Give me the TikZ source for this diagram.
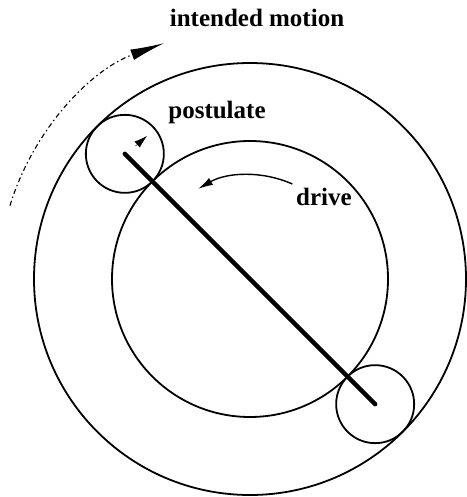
\documentclass[tikz,border=0pt]{standalone}
\usepackage{fontspec}
\setmainfont{Liberation Serif}
\usetikzlibrary{arrows.meta,calc}
\begin{document}
\begin{tikzpicture}[x=1pt,y=-1pt,
  ring/.style={line width=1.8pt},
  rod/.style={line width=4.5pt,line cap=round},
  lbl/.style={font=\fontsize{25}{30}\selectfont\bfseries,anchor=base,inner sep=0pt},
  motionarc/.style={line width=1.1pt,dash pattern=on 5pt off 3pt on 1.5pt off 3pt},
  drivearc/.style={line width=1.4pt}]
\useasboundingbox (0,0) rectangle (466,497);
\coordinate (c) at (250,279);
\coordinate (s1) at ($(c)+(225:177)$);
\coordinate (s2) at ($(c)+(45:177)$);
\node[draw,ring,circle,minimum size=432pt,inner sep=0pt] (outer) at (c) {};
\node[draw,ring,circle,minimum size=276pt,inner sep=0pt] (inner) at (c) {};
\node[draw,ring,circle,minimum size=78pt,inner sep=0pt] (p1) at (s1) {};
\node[draw,ring,circle,minimum size=78pt,inner sep=0pt] (p2) at (s2) {};
\draw[rod] (p1.center) -- (p2.center);
% intended motion arc
\coordinate (m0) at ($(c)+(197:251)$);
\draw[motionarc,-{Latex[length=34pt,width=11pt]}] (m0) arc[start angle=197,end angle=250,radius=251];
% drive arc
\coordinate (d0) at ($(c)+(294:104)$);
\draw[drivearc,-{Latex[length=15pt,width=8pt]}] (d0) arc[start angle=294,end angle=240,radius=104];
% postulate arrow
\coordinate (a0) at (135.5,146);
\coordinate (a1) at (147,136);
\draw[line width=0.5pt,-{Latex[length=13pt,width=8pt]}] (a0) -- (a1);
\node[lbl] (t1) at (257,27) {intended motion};
\node[lbl] (t2) at (217,119) {postulate};
\node[lbl] (t3) at (324,205) {drive};
\end{tikzpicture}
\end{document}
